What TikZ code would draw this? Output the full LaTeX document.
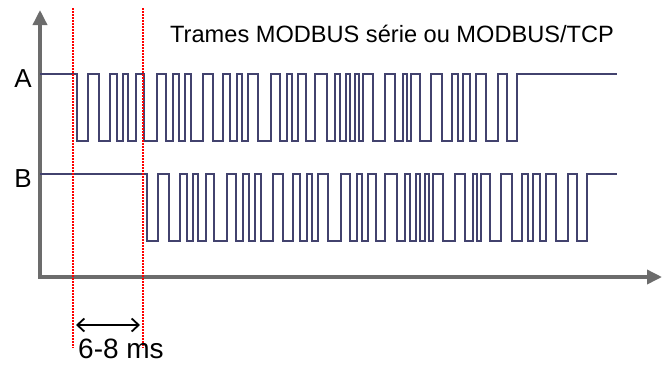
\documentclass[tikz,border=0pt]{standalone}
\usepackage{fontspec}
\setmainfont{Liberation Sans}
\usetikzlibrary{arrows.meta}
\definecolor{sigblue}{RGB}{66,66,110}
\definecolor{axisgray}{RGB}{108,108,108}
\tikzset{
  axis/.style={draw=axisgray,line width=3.5pt,{Triangle[length=15pt,width=14pt]}-{Triangle[length=15pt,width=14pt]}},
  signal/.style={draw=sigblue,line width=1.3pt},
  marker/.style={draw=red,line width=1.2pt,dash pattern=on 2pt off 1pt},
  span/.style={line width=1.8pt,{Straight Barb[length=7pt,width=13pt]}-{Straight Barb[length=7pt,width=13pt]}},
  label/.style={font=\fontsize{26}{28}\selectfont,inner sep=0pt}
}
% one frame: #1 shift, #2 high level, #3 low level
\newcommand{\trame}[3]{%
  \draw[signal] (40,#2)
    \foreach \f/\r in {77/88,99/110,117/123,128/136,144/157,166/173,179/185,
      191/203,213/223,230/237,242/248,258/271,280/287,292/298,306/315,327/335,
      340/346,350/355,359/363,373/385,395/403,407/411,420/431,442/452,458/463,
      470/476,486/498,507/517}
    { -| (\f+#1,#3) -| (\r+#1,#2) } -- (617,#2);}
\begin{document}
\begin{tikzpicture}[x=1pt,y=-1pt]
  \useasboundingbox (0,0) rectangle (671,365);
  \draw[axis] (40,10) |- (662,277);
  \trame{0}{74}{141}
  \trame{70}{174}{241}
  \node[label,anchor=base] (lblA) at (23,87) {A};
  \node[label,anchor=base] (lblB) at (23,187) {B};
  \node[anchor=base west,inner sep=0pt,font=\fontsize{23.6}{25}\selectfont] (title) at (170,42) {Trames MODBUS série ou MODBUS/TCP};
  \coordinate (startA) at (73,8);
  \coordinate (startB) at (143,8);
  \coordinate (endA) at (73,348);
  \coordinate (endB) at (143,348);
  \draw[marker] (startA) -- (endA);
  \draw[marker] (startB) -- (endB);
  \draw[span] ([xshift=3pt,yshift=23pt]endA) -- ([xshift=-3pt,yshift=23pt]endB);
  \node[anchor=base west,inner sep=0pt,font=\fontsize{28}{30}\selectfont] (delay) at (78,358) {6-8 ms};
\end{tikzpicture}
\end{document}
